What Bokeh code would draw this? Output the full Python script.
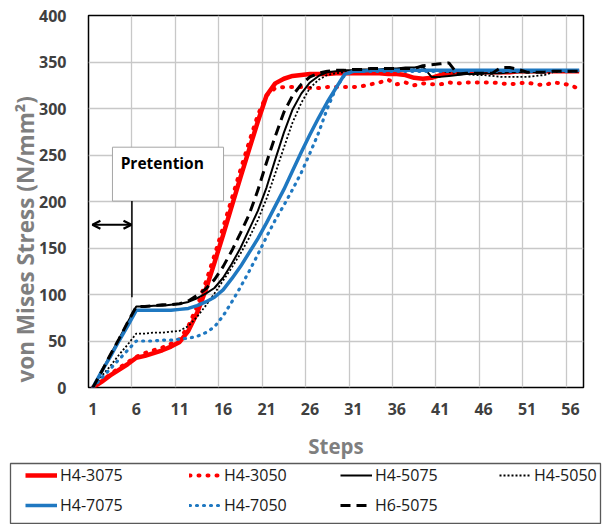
from bokeh.plotting import figure
from bokeh.layouts import column, row
from bokeh.models import (FixedTicker, Legend, LegendItem, Label, Arrow, OpenHead,
                          Range1d, Title)
from bokeh.embed import file_html
from bokeh.resources import INLINE

# ---------------- data ----------------
steps = list(range(1, 58))
x_tick_labels = [1, 6, 11, 16, 21, 26, 31, 36, 41, 46, 51, 56]
y_ticks = [0, 50, 100, 150, 200, 250, 300, 350, 400]

h4_3075 = [0, 6, 13, 19, 25, 32, 34, 37, 40, 44, 49, 61, 80, 105, 134, 164, 195, 226, 256, 286,
           314, 327, 332, 335, 336, 337, 337, 337, 338, 338, 338, 338, 338, 338, 337, 337, 336, 333,
           332, 333, 336, 338, 339, 339, 339, 339, 339, 339, 339, 340, 340, 340, 340, 340, 340, 340, 340]
h4_3050 = [0, 7, 14, 21, 27, 33, 37, 40, 43, 47, 52, 66, 87, 113, 142, 172, 203, 234, 264, 293,
           314, 322, 323, 323, 323, 322, 322, 323, 323, 323, 323, 324, 326, 328, 331, 326, 328, 325,
           327, 326, 326, 328, 327, 328, 328, 328, 328, 327, 326, 327, 328, 326, 325, 328, 327, 325, 321]
h4_5075 = [0, 17, 35, 52, 70, 87, 87, 88, 88, 89, 90, 92, 96, 101, 107, 118, 133, 150, 170, 190,
           215, 245, 274, 299, 316, 328, 335, 339, 340, 341, 341, 342, 342, 342, 343, 343, 344, 344,
           345, 334, 334, 335, 336, 337, 337, 338, 338, 338, 339, 339, 339, 339, 340, 340, 340, 340, 340]
h4_5050 = [0, 12, 23, 35, 46, 58, 58, 59, 59, 60, 61, 66, 76, 88, 101, 115, 129, 144, 161, 180,
           203, 230, 258, 285, 306, 322, 331, 336, 338, 339, 340, 341, 341, 341, 341, 342, 342, 342,
           342, 341, 340, 339, 338, 337, 336, 336, 335, 334, 334, 334, 334, 335, 336, 339, 340, 340, 340]
h4_7075 = [0, 17, 33, 50, 66, 83, 83, 83, 83, 83, 84, 85, 88, 92, 97, 105, 117, 130, 145, 160,
           177, 195, 213, 233, 253, 272, 290, 307, 322, 337, 340, 340, 341, 341, 341, 341, 341, 341,
           341, 341, 341, 341, 341, 341, 341, 341, 341, 341, 341, 341, 341, 341, 341, 341, 341, 341, 341]
h4_7050 = [0, 10, 20, 30, 40, 50, 50, 50, 51, 51, 52, 53, 55, 59, 65, 77, 92, 108, 125, 143,
           162, 180, 196, 213, 231, 252, 274, 300, 322, 336, 340, 340, 340, 340, 340, 340, 340, 340,
           340, 340, 340, 340, 340, 340, 340, 340, 340, 340, 340, 340, 340, 340, 340, 340, 340, 340, 340]
h6_5075 = [0, 17, 35, 52, 70, 87, 87, 88, 89, 89, 90, 93, 99, 106, 116, 130, 147, 166, 186, 212,
           242, 270, 296, 314, 326, 334, 338, 340, 341, 341, 342, 342, 343, 343, 343, 343, 343, 343,
           346, 347, 348, 349, 337, 338, 338, 338, 338, 344, 344, 342, 339, 339, 339, 340, 340, 340, 340]

series_names = ["H4-3075", "H4-3050", "H4-5075", "H4-5050", "H4-7075", "H4-7050", "H6-5075"]

FONT = "Open Sans"
RED = "#FF0000"
BLUE = "#1F78C1"
styles = {
    "H4-3075": dict(line_color=RED, line_width=4.5, line_join="round"),
    "H4-3050": dict(line_color=RED, line_width=4, line_dash="1 8", line_cap="round"),
    "H4-5075": dict(line_color="black", line_width=2),
    "H4-5050": dict(line_color="black", line_width=1.8, line_dash="2 2"),
    "H4-7075": dict(line_color=BLUE, line_width=3.5, line_join="round"),
    "H4-7050": dict(line_color=BLUE, line_width=3.2, line_dash="1 6", line_cap="round"),
    "H6-5075": dict(line_color="black", line_width=3, line_dash="10 6"),
}
values = dict(zip(series_names, [h4_3075, h4_3050, h4_5075, h4_5050, h4_7075, h4_7050, h6_5075]))

# ---------------- main chart ----------------
p = figure(width=608, height=462, output_backend="svg", toolbar_location=None,
           x_range=Range1d(0.5, 57.5), y_range=Range1d(0, 400),
           min_border_left=88, min_border_right=25, min_border_top=15, min_border_bottom=74)
p.outline_line_color = "black"
p.outline_line_width = 1.5

p.xgrid.ticker = FixedTicker(ticks=[0.5 + 5 * i for i in range(12)])
p.ygrid.ticker = FixedTicker(ticks=y_ticks)
for g in (p.xgrid, p.ygrid):
    g.grid_line_color = "#C8C8C8"
    g.grid_line_width = 1.3

p.xaxis.ticker = FixedTicker(ticks=x_tick_labels)
p.yaxis.ticker = FixedTicker(ticks=y_ticks)
for ax in (p.xaxis, p.yaxis):
    ax.axis_line_color = None
    ax.major_tick_line_color = None
    ax.minor_tick_line_color = None
    ax.major_tick_out = 0
    ax.major_tick_in = 0
    ax.major_label_text_font = FONT
    ax.major_label_text_font_size = "16px"
    ax.major_label_text_font_style = "bold"
    ax.major_label_text_color = "#404040"
p.xaxis.major_label_standoff = 15
p.yaxis.major_label_standoff = 22
p.xaxis.axis_label = "Steps"
p.xaxis.axis_label_text_font = FONT
p.xaxis.axis_label_text_font_size = "20.5px"
p.xaxis.axis_label_text_font_style = "bold"
p.xaxis.axis_label_text_color = "#7F7F7F"
p.xaxis.axis_label_standoff = 14

p.add_layout(Title(text="von Mises Stress (N/mm²)", align="left", offset=5,
                   text_font=FONT, text_font_size="22.5px", text_font_style="bold",
                   text_color="#7F7F7F", standoff=-8), "left")

# pretention annotation
p.quad(left=3.26, right=16.05, bottom=200.5, top=258.4, fill_color="white",
       line_color="#A6A6A6", line_width=1)
p.add_layout(Label(x=4.2, y=241, text="Pretention", text_baseline="middle",
                   text_font=FONT, text_font_size="15.5px", text_font_style="bold",
                   text_color="black"))
p.segment(x0=[5.5], y0=[97], x1=[5.5], y1=[200.5], line_color="black", line_width=1.5)
p.add_layout(Arrow(start=OpenHead(size=8, line_width=2.2), end=OpenHead(size=8, line_width=2.2),
                   x_start=0.95, y_start=175, x_end=5.45, y_end=175, line_width=2.2))

for name in series_names:
    p.line(steps, values[name], **styles[name])

# ---------------- legend box (separate strip) ----------------
lf = figure(width=608, height=62, output_backend="svg", toolbar_location=None,
            x_range=Range1d(0, 1), y_range=Range1d(1000, 1001),
            min_border_left=10, min_border_right=8, min_border_top=1, min_border_bottom=1)
lf.xaxis.visible = False
lf.yaxis.visible = False
lf.grid.visible = False
lf.outline_line_color = "#595959"
lf.outline_line_width = 1.3

# the series themselves, drawn outside this strip's visible y-range: only their legend samples show
samples = {name: lf.line(steps, values[name], **styles[name]) for name in series_names}

def make_legend(names, loc):
    lg = Legend(items=[LegendItem(label=n, renderers=[samples[n]]) for n in names], location=loc,
                orientation="vertical", spacing=8, padding=0, margin=0,
                glyph_width=32, glyph_height=20, label_height=20, label_standoff=3,
                border_line_alpha=0, background_fill_alpha=0,
                label_text_font=FONT, label_text_font_size="16px", label_text_color="#1A1A1A")
    lf.add_layout(lg)

make_legend(["H4-3075", "H4-7075"], (15, 7))
make_legend(["H4-3050", "H4-7050"], (179, 7))
make_legend(["H4-5075", "H6-5075"], (330, 7))
make_legend(["H4-5050"], (489, 37))

open("out.html", "w").write(file_html(column(p, row(lf), spacing=0), INLINE))
